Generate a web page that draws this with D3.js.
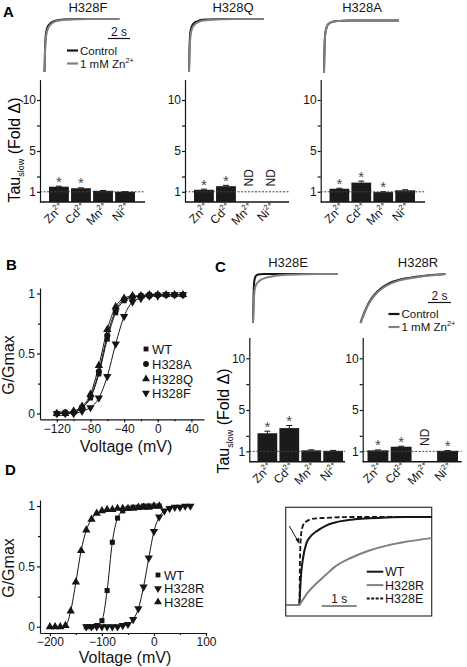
<!DOCTYPE html>
<html><head><meta charset="utf-8">
<script src="https://cdn.jsdelivr.net/npm/d3@7"></script>
<style>body{margin:0;background:#fff} svg{display:block} text{font-family:"Liberation Sans",Arial,sans-serif}</style>
</head><body><svg id="c" width="467" height="667"></svg>
<script>
// ---------- DATA ----------
const ions = ["Zn","Cd","Mn","Ni"];
// Tau slow fold change (null = ND)
const tauH328F = [1.5, 1.35, 1.1, 1.0];
const errH328F = [0.05, 0.04, 0.03, 0.02];
const sigH328F = [true, true, false, false];
const tauH328Q = [1.2, 1.55, null, null];
const errH328Q = [0.06, 0.08, 0, 0];
const sigH328Q = [true, true, false, false];
const tauH328A = [1.3, 1.9, 0.97, 1.15];
const errH328A = [0.05, 0.15, 0.04, 0.05];
const sigH328A = [true, true, true, false];
const tauH328E = [2.75, 3.25, 1.1, 1.05];
const errH328E = [0.2, 0.25, 0.05, 0.04];
const sigH328E = [true, true, false, false];
const tauH328R = [1.1, 1.45, null, 1.05];
const errH328R = [0.04, 0.05, 0, 0.03];
const sigH328R = [true, true, false, true];

// current traces (normalized), time in s
const traceT   = [0, 0.05, 0.1, 0.2, 0.3, 0.45, 0.6, 0.8, 1.0, 1.3, 1.7, 2.2, 3, 4, 5, 6, 6.8];
const trFctrl  = [0, 0.45, 0.66, 0.8, 0.86, 0.9, 0.93, 0.955, 0.97, 0.98, 0.99, 0.995, 1, 1, 1, 1, 1];
const trFzn    = [0, 0.38, 0.58, 0.74, 0.81, 0.87, 0.905, 0.935, 0.955, 0.97, 0.982, 0.99, 0.995, 1, 1, 1, 1];
const trQctrl  = [0, 0.5, 0.7, 0.83, 0.88, 0.92, 0.945, 0.96, 0.975, 0.985, 0.99, 0.995, 1, 1, 1, 1, 1];
const trQzn    = [0, 0.4, 0.6, 0.76, 0.83, 0.88, 0.91, 0.935, 0.955, 0.97, 0.98, 0.99, 0.995, 1, 1, 1, 1];
const trActrl  = [0, 0.5, 0.72, 0.84, 0.9, 0.94, 0.96, 0.975, 0.985, 0.99, 0.995, 1, 1, 1, 1, 1, 1];
const trAzn    = [0, 0.5, 0.72, 0.84, 0.9, 0.94, 0.96, 0.975, 0.985, 0.99, 0.995, 1, 1, 1, 1, 1, 1];
const trEctrl  = [0, 0.6, 0.85, 0.95, 0.975, 0.99, 0.995, 1, 1, 1, 1, 1, 1, 1, 1, 1, 1];
const trEzn    = [0, 0.35, 0.6, 0.75, 0.8, 0.845, 0.875, 0.9, 0.92, 0.94, 0.96, 0.975, 0.985, 0.995, 1, 1, 1];
const trRctrl  = [0, 0.035, 0.075, 0.14, 0.21, 0.3, 0.38, 0.47, 0.54, 0.63, 0.72, 0.8, 0.875, 0.925, 0.96, 0.985, 1.0];
const trRzn    = [0, 0.03, 0.065, 0.125, 0.19, 0.28, 0.36, 0.45, 0.52, 0.61, 0.7, 0.78, 0.86, 0.915, 0.955, 0.98, 1.0];

// Panel B: G/Gmax vs voltage
const bV   = [-120,-110,-100,-90,-80,-70,-60,-50,-40,-30,-20,-10,0,10,20,30];
const bWT  = [0.00,0.00,0.01,0.05,0.13,0.33,0.62,0.84,0.94,0.97,0.98,0.99,0.99,0.99,0.99,0.99];
const bA   = [0.00,0.01,0.01,0.05,0.14,0.35,0.65,0.86,0.95,0.97,0.98,0.98,0.99,0.99,0.99,0.99];
const bQ   = [0.00,0.00,0.02,0.06,0.16,0.40,0.70,0.89,0.96,0.98,0.98,0.99,0.99,0.99,0.99,0.99];
const bF   = [0.00,0.00,0.00,0.02,0.05,0.13,0.31,0.58,0.81,0.93,0.96,0.98,0.98,0.99,0.99,0.99];
const bTicks = [-120,-80,-40,0,40];

// Panel D
const dVE  = [-200,-190,-180,-170,-160,-150,-140,-130,-120,-110,-100,-90,-80,-70,-60,-50,-40,-30,-20,-10,0,10];
const dE   = [0.00,0.00,0.00,0.01,0.13,0.37,0.63,0.80,0.89,0.94,0.96,0.97,0.97,0.98,0.98,0.98,0.98,0.99,0.99,0.99,1.00,1.00];
const dVWT = [-130,-120,-110,-100,-90,-80,-70,-60,-50,-40,-30,-20,-10,0,10];
const dWT  = [0.00,0.00,0.01,0.05,0.30,0.70,0.90,0.96,0.98,0.99,0.99,1.00,1.00,1.00,1.00];
const dVR  = [-130,-120,-110,-100,-90,-80,-70,-60,-50,-40,-30,-20,-10,0,10,20,30,40,50,60,70];
const dR   = [0.00,0.00,0.00,0.00,0.00,0.00,0.00,0.01,0.02,0.06,0.15,0.33,0.57,0.79,0.91,0.96,0.98,0.99,0.99,1.00,1.00];
const dTicks = [-200,-100,0,100];

// Inset traces
const insT  = [-0.39, 0, 0.02, 0.05, 0.1, 0.2, 0.3, 0.5, 0.75, 1.0, 1.5, 2.0, 2.5, 3.0, 3.78];
const insWT = [0, 0, 0.15, 0.35, 0.52, 0.7, 0.77, 0.84, 0.9, 0.935, 0.97, 0.985, 0.995, 1, 1];
const insR  = [0, 0, 0.01, 0.03, 0.06, 0.12, 0.17, 0.25, 0.34, 0.43, 0.54, 0.62, 0.675, 0.715, 0.76];
const insE  = [0, 0, 0.55, 0.8, 0.9, 0.95, 0.97, 0.985, 0.99, 0.995, 1, 1, 1, 1, 1];

// ---------- DRAW ----------
const svg = d3.select("#c");
svg.append("rect").attr("width",467).attr("height",667).attr("fill","#fff");
const BLACK = "#151515", GRAY = "#808080";

function panelLetter(x,y,s){ svg.append("text").attr("x",x).attr("y",y).attr("font-size",15).attr("font-weight","bold").text(s); }
function ionText(sel, ion){ sel.append("tspan").text(ion); sel.append("tspan").attr("font-size",7.5).attr("dy",-5).text("2+"); }
function tauLabel(x,y){
  const t = svg.append("text").attr("transform",`translate(${x},${y}) rotate(-90)`).attr("text-anchor","middle").attr("font-size",16);
  t.append("tspan").text("Tau");
  t.append("tspan").attr("font-size",9).attr("dy",4).text("slow");
  t.append("tspan").attr("dy",-4).text(" (Fold \u0394)");
}
function styleAxis(g){ g.selectAll("path,line").attr("stroke",BLACK).attr("stroke-width",1.2); g.selectAll("text").attr("font-size",12).attr("fill",BLACK).attr("font-family",'"Liberation Sans",Arial,sans-serif'); }

function barPanel(c){
  const ppu = (c.y0 - c.y10)/10;
  const y = d3.scaleLinear().domain([0,12]).range([c.y0, c.y0 - 12*ppu]);
  const x = d3.scaleBand().domain(ions).range([c.b0, c.b1]).paddingInner(0.1).paddingOuter(0);
  const g = svg.append("g");
  ions.forEach((ion,i)=>{
    const cx = x(ion) + x.bandwidth()/2;
    const v = c.vals[i];
    if (v == null){
      g.append("text").attr("transform",`translate(${cx+4.5},${y(1)-14}) rotate(-90)`).attr("text-anchor","middle").attr("font-size",12).attr("fill",BLACK).text("ND");
    } else {
      g.append("rect").attr("x",x(ion)).attr("width",x.bandwidth()).attr("y",y(v)).attr("height",y(0)-y(v)).attr("fill","#1b1b1b");
      const e = c.errs[i];
      g.append("line").attr("x1",cx).attr("x2",cx).attr("y1",y(v)).attr("y2",y(v+e)).attr("stroke",BLACK).attr("stroke-width",1);
      g.append("line").attr("x1",cx-3).attr("x2",cx+3).attr("y1",y(v+e)).attr("y2",y(v+e)).attr("stroke",BLACK).attr("stroke-width",1);
      if (c.sig[i]) g.append("text").attr("x",cx).attr("y",y(v+e)+0.5).attr("text-anchor","middle").attr("font-size",15).attr("fill","#4a4a4a").text("*");
    }
    const t = g.append("text").attr("transform",`translate(${cx+6},${c.y0+6}) rotate(-45)`).attr("text-anchor","end").attr("font-size",12).attr("fill",BLACK);
    ionText(t, ion);
  });
  g.append("line").attr("x1",c.ax0).attr("x2",c.ax1).attr("y1",y(1)).attr("y2",y(1)).attr("stroke","#444").attr("stroke-width",1).attr("stroke-dasharray","2,1.5");
  const ya = g.append("g").attr("transform",`translate(${c.ax0},0)`).call(d3.axisLeft(y).tickValues([1,5,10]).tickSize(3).tickSizeOuter(0).tickPadding(1));
  styleAxis(ya);
  const ym = g.append("g").attr("transform",`translate(${c.ax0},0)`).call(d3.axisLeft(y).tickValues([2.5,7.5]).tickSize(3).tickFormat(""));
  ym.select(".domain").remove(); styleAxis(ym);
  g.append("line").attr("x1",c.ax0).attr("x2",c.ax1).attr("y1",y(0)).attr("y2",y(0)).attr("stroke",BLACK).attr("stroke-width",1.4);
}

function tracePanel(c){
  const x = d3.scaleLinear().domain([0,7]).range([c.x0, c.x0 + 7*c.pps]);
  const y = d3.scaleLinear().domain([0,1]).range([c.yb, c.yt]);
  const line = d3.line().x((d,i)=>x(traceT[i])).y(d=>y(d)).curve(d3.curveMonotoneX);
  svg.append("path").attr("d",line(c.ctrl)).attr("fill","none").attr("stroke",BLACK).attr("stroke-width",2);
  svg.append("path").attr("d",line(c.zn)).attr("fill","none").attr("stroke",GRAY).attr("stroke-width",2);
  svg.append("text").attr("x",c.tx).attr("y",c.ty).attr("text-anchor","middle").attr("font-size",13).attr("fill",BLACK).text(c.title);
}
function traceLegend(x,y){
  svg.append("line").attr("x1",x).attr("x2",x+11).attr("y1",y).attr("y2",y).attr("stroke",BLACK).attr("stroke-width",2.2);
  svg.append("text").attr("x",x+13).attr("y",y+4.2).attr("font-size",11.5).attr("fill",BLACK).text("Control");
  svg.append("line").attr("x1",x).attr("x2",x+11).attr("y1",y+13).attr("y2",y+13).attr("stroke",GRAY).attr("stroke-width",2.2);
  const t = svg.append("text").attr("x",x+13).attr("y",y+17.2).attr("font-size",11.5).attr("fill",BLACK);
  t.append("tspan").text("1 mM Zn"); t.append("tspan").attr("font-size",7.5).attr("dy",-5).text("2+");
}
function scaleBar(x1,x2,y,label){
  svg.append("line").attr("x1",x1).attr("x2",x2).attr("y1",y).attr("y2",y).attr("stroke",BLACK).attr("stroke-width",1.2);
  svg.append("text").attr("x",(x1+x2)/2).attr("y",y-3).attr("text-anchor","middle").attr("font-size",12).attr("fill",BLACK).text(label);
}

// ----- Panel A -----
panelLetter(3,17,"A");
tracePanel({x0:44.5, pps:11, yb:72, yt:19, ctrl:trFctrl, zn:trFzn, title:"H328F", tx:88, ty:12});
tracePanel({x0:189, pps:11, yb:72, yt:19, ctrl:trQctrl, zn:trQzn, title:"H328Q", tx:233, ty:12});
tracePanel({x0:324, pps:11, yb:72.5, yt:20.5, ctrl:trActrl, zn:trAzn, title:"H328A", tx:362, ty:12});
scaleBar(108,130,38.5,"2 s");
traceLegend(67,50.5);
barPanel({ax0:40, ax1:145, y0:202, y10:100, b0:49, b1:135, vals:tauH328F, errs:errH328F, sig:sigH328F});
barPanel({ax0:185, ax1:289, y0:202, y10:100, b0:194, b1:280, vals:tauH328Q, errs:errH328Q, sig:sigH328Q});
barPanel({ax0:320.7, ax1:425, y0:202, y10:100, b0:329.5, b1:415, vals:tauH328A, errs:errH328A, sig:sigH328A});
tauLabel(20,150);

// ----- Panel C -----
panelLetter(215,272,"C");
tracePanel({x0:253, pps:12.5, yb:323, yt:274, ctrl:trEctrl, zn:trEzn, title:"H328E", tx:288, ty:267});
tracePanel({x0:360.5, pps:12.5, yb:323, yt:274, ctrl:trRctrl, zn:trRzn, title:"H328R", tx:418, ty:267});
scaleBar(428,451,302.5,"2 s");
traceLegend(388.5,314);
barPanel({ax0:249.3, ax1:345, y0:461.7, y10:358.3, b0:257.5, b1:343, vals:tauH328E, errs:errH328E, sig:sigH328E});
barPanel({ax0:362.7, ax1:461.7, y0:461.7, y10:358.3, b0:367.5, b1:458, vals:tauH328R, errs:errH328R, sig:sigH328R});
tauLabel(229,421);

// ----- Panel B / D -----
function gvPanel(c){
  const x = d3.scaleLinear().domain(c.xd).range([40, c.xr1]);
  const y = d3.scaleLinear().domain(c.yd).range([c.yr0, c.yr1]);
  const g = svg.append("g");
  c.series.forEach(s=>{
    const pts = s.v.map((v,i)=>[v, s.g[i]]);
    g.append("path").attr("d", d3.line().x(d=>x(d[0])).y(d=>y(d[1])).curve(d3.curveMonotoneX)(pts))
      .attr("fill","none").attr("stroke",BLACK).attr("stroke-width",1);
    pts.forEach(p=>{
      g.append("path").attr("d", d3.symbol().type(s.sym).size(s.size)())
        .attr("transform",`translate(${x(p[0])},${y(p[1])})${s.down?" rotate(180)":""}`).attr("fill",BLACK);
    });
  });
  const xa = g.append("g").attr("transform",`translate(0,${c.yr0})`).call(d3.axisBottom(x).tickValues(c.xt).tickSize(3).tickSizeOuter(0).tickPadding(c.xpad));
  styleAxis(xa);
  const xm = g.append("g").attr("transform",`translate(0,${c.yr0})`).call(d3.axisBottom(x).tickValues(c.xm).tickSize(2).tickFormat(""));
  xm.select(".domain").remove(); styleAxis(xm);
  const ya = g.append("g").attr("transform",`translate(40,0)`).call(d3.axisLeft(y).tickValues([0,0.5,1]).tickFormat(d=>String(d)).tickSize(3).tickSizeOuter(0).tickPadding(2));
  styleAxis(ya);
  const ym = g.append("g").attr("transform",`translate(40,0)`).call(d3.axisLeft(y).tickValues([0.25,0.75]).tickSize(2).tickFormat(""));
  ym.select(".domain").remove(); styleAxis(ym);
  svg.append("text").attr("transform",`translate(13.5,${c.ylc}) rotate(-90)`).attr("text-anchor","middle").attr("font-size",16).attr("fill",BLACK).text("G/Gmax");
  svg.append("text").attr("x",c.xlc).attr("y",c.xlb).attr("text-anchor","middle").attr("font-size",16).attr("fill",BLACK).text("Voltage (mV)");
  c.series.forEach((s,i)=>{
    const ly = c.legY[i];
    svg.append("path").attr("d", d3.symbol().type(s.sym).size(s.size*0.9)()).attr("transform",`translate(${c.legX},${ly})${s.down?" rotate(180)":""}`).attr("fill",BLACK);
    svg.append("text").attr("x",c.legX+6).attr("y",ly+4.5).attr("font-size",13).attr("fill",BLACK).text(s.name);
  });
}
panelLetter(6,270,"B");
gvPanel({xd:[-140,55], xr1:204, yd:[-0.048,1.046], yr0:419.3, yr1:288, xt:bTicks, xm:[-100,-60,-20,20], xpad:2,
  series:[
    {name:"WT", v:bV, g:bWT, sym:d3.symbolSquare, size:26},
    {name:"H328A", v:bV, g:bA, sym:d3.symbolCircle, size:30},
    {name:"H328Q", v:bV, g:bQ, sym:d3.symbolTriangle, size:30},
    {name:"H328F", v:bV, g:bF, sym:d3.symbolTriangle, size:30, down:true}],
  legX:146, legY:[349,364,379,393], ylc:365, xlc:126, xlb:451.5});

panelLetter(5,475,"D");
gvPanel({xd:[-219,100], xr1:206, yd:[-0.052,1.05], yr0:633, yr1:500, xt:dTicks, xm:[-150,-50,50], xpad:1.5,
  series:[
    {name:"WT", v:dVWT, g:dWT, sym:d3.symbolSquare, size:26},
    {name:"H328R", v:dVR, g:dR, sym:d3.symbolTriangle, size:30, down:true},
    {name:"H328E", v:dVE, g:dE, sym:d3.symbolTriangle, size:30}],
  legX:158, legY:[575,588.5,602], ylc:568, xlc:125, xlb:663});

// ----- Inset -----
(function(){
  const x0=285.7, x1=431.7, y0=507.3, y1=616;
  svg.append("rect").attr("x",x0).attr("y",y0).attr("width",x1-x0).attr("height",y1-y0).attr("fill","none").attr("stroke","#333").attr("stroke-width",1.2);
  const x = d3.scaleLinear().domain([insT[0], insT[insT.length-1]]).range([x0, x1]);
  const y = d3.scaleLinear().domain([0,1]).range([605, 517]);
  const line = d3.line().x((d,i)=>x(insT[i])).y(d=>y(d)).curve(d3.curveMonotoneX);
  svg.append("path").attr("d",line(insWT)).attr("fill","none").attr("stroke",BLACK).attr("stroke-width",2);
  svg.append("path").attr("d",line(insE)).attr("fill","none").attr("stroke",BLACK).attr("stroke-width",1.8).attr("stroke-dasharray","5,2.5");
  svg.append("path").attr("d",line(insR)).attr("fill","none").attr("stroke",GRAY).attr("stroke-width",2);
  svg.append("line").attr("x1",289.3).attr("y1",526).attr("x2",298.5).attr("y2",542).attr("stroke",BLACK).attr("stroke-width",1);
  svg.append("path").attr("d","M299.5,544 L295.4,539.6 L299.0,537.8 Z").attr("fill",BLACK);
  const leg = [["WT",BLACK,null],["H328R",GRAY,null],["H328E",BLACK,"3,1.5"]];
  leg.forEach((l,i)=>{
    const ly = 571.7 + i*13.4;
    const ln = svg.append("line").attr("x1",366.7).attr("x2",383.3).attr("y1",ly).attr("y2",ly).attr("stroke",l[1]).attr("stroke-width",2);
    if (l[2]) ln.attr("stroke-dasharray",l[2]);
    svg.append("text").attr("x",385).attr("y",ly+4.5).attr("font-size",12.5).attr("fill",BLACK).text(l[0]);
  });
  scaleBar(321.7,356.7,606,"1 s");
})();
</script></body></html>
